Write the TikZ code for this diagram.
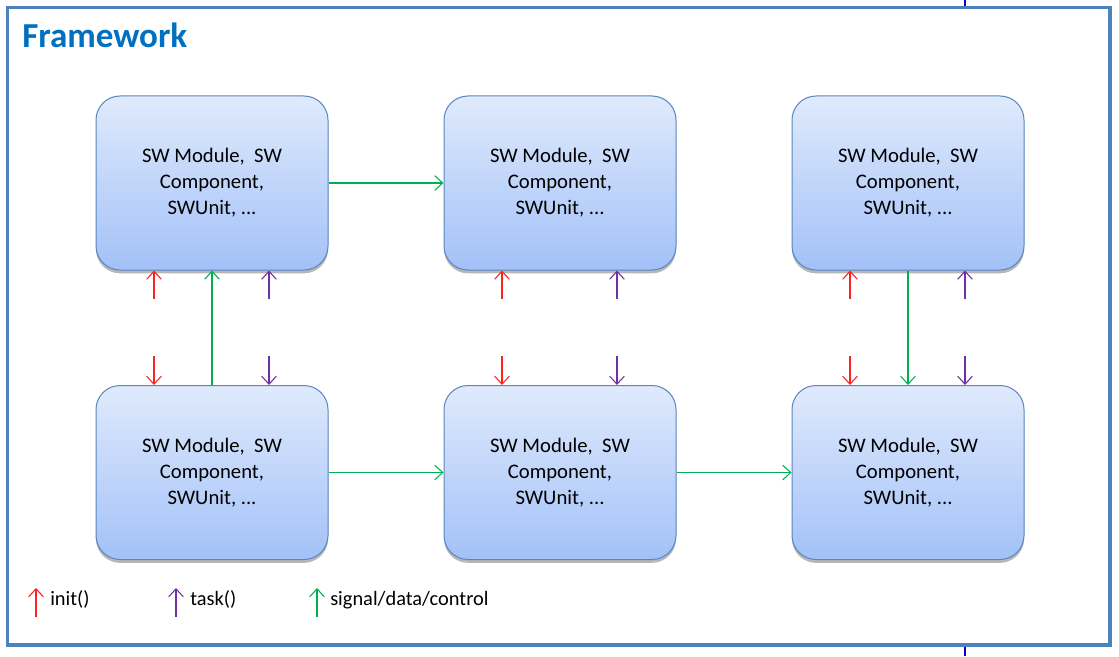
\documentclass[tikz,border=0pt]{standalone}
\usepackage{fontspec}
\setmainfont{Carlito}
\usetikzlibrary{arrows.meta,shadows,calc}
\definecolor{frameblue}{HTML}{4F81BD}
\definecolor{titleblue}{HTML}{0070C0}
\definecolor{boxtop}{HTML}{DFEAFC}
\definecolor{boxbot}{HTML}{A3C1F8}
\definecolor{boxline}{HTML}{5A86C0}
\definecolor{initred}{HTML}{FF2020}
\definecolor{taskpurple}{HTML}{7030A0}
\definecolor{siggreen}{HTML}{00B050}
\definecolor{tickblue}{HTML}{0000CC}
\tikzset{
  swbox/.style={draw=boxline, line width=0.75pt, rounded corners=18pt,
    top color=boxtop, bottom color=boxbot,
    minimum width=174pt, minimum height=130.5pt, align=center,
    font=\fontsize{15.5}{19.5}\selectfont,
    drop shadow={shadow xshift=0pt, shadow yshift=-2.5pt, opacity=0.4, fill=black!70}},
  tip/.style={-{Straight Barb[length=6pt,width=11pt,line width=0.8pt]}, line width=0.8pt},
  initarr/.style={tip, draw=initred},
  taskarr/.style={tip, draw=taskpurple},
  sigarr/.style={tip, draw=siggreen},
  legtext/.style={anchor=base west, inner sep=0pt, font=\fontsize{15.3}{19.5}\selectfont}
}
\begin{document}
\begin{tikzpicture}[x=0.75pt,y=-0.75pt]
\useasboundingbox (0,0) rectangle (1119,656);
\fill[white] (0,0) rectangle (1119,656);
% frame
\draw[frameblue, line width=2.6pt] (7.5,7.5) rectangle (1110,645);
\draw[tickblue, line width=1.5pt] (965,0) -- (965,6);
\draw[tickblue, line width=1.5pt] (965,647) -- (965,656);
\node[anchor=base west, inner sep=0pt, text=titleblue, font=\fontsize{26.3}{30}\selectfont\bfseries] (title) at (22,48) {Framework};
% boxes
\newcommand{\swtext}{SW Module,\hspace{0.45em}SW\\Component,\\SWUnit, ...}
\node[swbox] (b1) at (212,183) {\swtext};
\node[swbox] (b2) at (560,183) {\swtext};
\node[swbox] (b3) at (908,183) {\swtext};
\node[swbox] (b4) at (212,472.5) {\swtext};
\node[swbox] (b5) at (560,472.5) {\swtext};
\node[swbox] (b6) at (908,472.5) {\swtext};
% signal connectors
\draw[sigarr] (b1) -- (b2);
\draw[sigarr] (b4) -- (b5);
\draw[sigarr] (b5) -- (b6);
\draw[sigarr] (b4.north) -- (b1.south);
\draw[sigarr] (b3.south) -- (b6.north);
% init / task stubs
\foreach \b in {b1,b2,b3}{
  \draw[initarr] ($(\b.south)+(-58,28)$) -- ($(\b.south)+(-58,0)$);
  \draw[taskarr] ($(\b.south)+(57,28)$) -- ($(\b.south)+(57,0)$);
}
\foreach \b in {b4,b5,b6}{
  \draw[initarr] ($(\b.north)+(-58,-29)$) -- ($(\b.north)+(-58,0)$);
  \draw[taskarr] ($(\b.north)+(57,-29)$) -- ($(\b.north)+(57,0)$);
}
% legend
\coordinate (l1a) at (36,617); \coordinate (l1b) at (36,588);
\coordinate (l2a) at (176,617); \coordinate (l2b) at (176,588);
\coordinate (l3a) at (317,617); \coordinate (l3b) at (317,588);
\draw[initarr] (l1a) -- (l1b);
\draw[taskarr] (l2a) -- (l2b);
\draw[sigarr] (l3a) -- (l3b);
\node[legtext] (t1) at (50,605) {init()};
\node[legtext] (t2) at (190,605) {task()};
\node[legtext] (t3) at (330,605) {signal/data/control};
\end{tikzpicture}
\end{document}
